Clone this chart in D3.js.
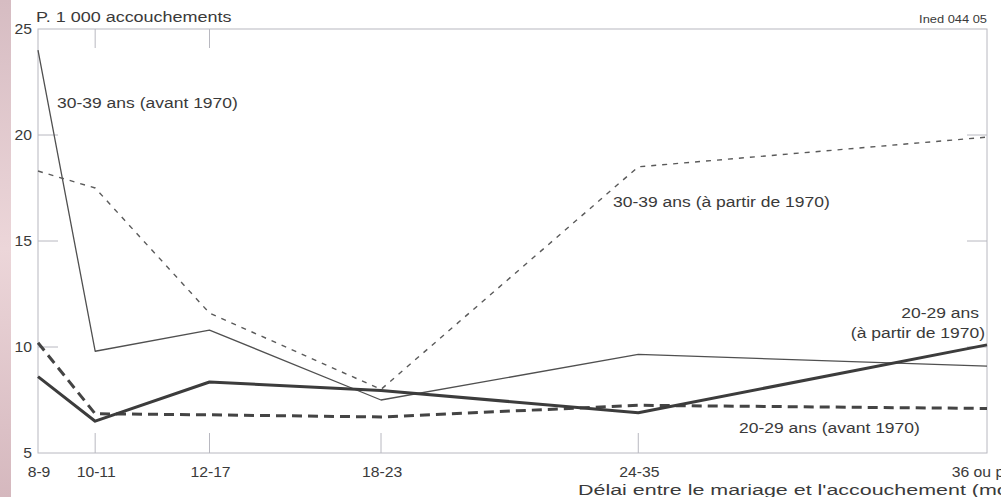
<!DOCTYPE html>
<html>
<head>
<meta charset="utf-8">
<script src="https://cdn.jsdelivr.net/npm/d3@7"></script>
<style>
  html, body { margin: 0; padding: 0; background: #fff; overflow: hidden; }
  svg { display: block; }
  text { font-family: "Liberation Sans", Arial, sans-serif; fill: #3a3a3a; }
</style>
</head>
<body>
<script>
// ---- data ----
const categories = ["8-9", "10-11", "12-17", "18-23", "24-35", "36 ou plus"];
const catMonths = [8.5, 10.5, 14.5, 20.5, 29.5, 41.7];
const yTicks = [5, 10, 15, 20, 25];

const s3039avant = [24.0, 9.8, 10.8, 7.5, 9.65, 9.1];
const s3039apres = [18.3, 17.5, 11.6, 8.0, 18.5, 19.9];
const s2029apres = [8.6, 6.5, 8.35, 7.95, 6.9, 10.1];
const s2029avant = [10.2, 6.85, 6.8, 6.7, 7.25, 7.1];

const W = 1001, H = 497;
const svg = d3.select("body").append("svg").attr("width", W).attr("height", H);

// pink left strip
const defs = svg.append("defs");
const grad = defs.append("linearGradient").attr("id", "strip").attr("x1", 0).attr("y1", 0).attr("x2", 0).attr("y2", 1);
grad.append("stop").attr("offset", "0%").attr("stop-color", "#d6bcc2");
grad.append("stop").attr("offset", "50%").attr("stop-color", "#ecd6d9");
grad.append("stop").attr("offset", "100%").attr("stop-color", "#d5b8be");
svg.append("rect").attr("x", 0).attr("y", 0).attr("width", 11).attr("height", H).attr("fill", "url(#strip)");

const x = d3.scaleLinear().domain([8.5, 41.7]).range([38, 987]);
const y = d3.scaleLinear().domain([5, 25]).range([453, 29]);

const frame = "#b8b8c0";
// frame
svg.append("rect").attr("x", x.range()[0]).attr("y", y(25))
  .attr("width", x.range()[1] - x.range()[0]).attr("height", y(5) - y(25))
  .attr("fill", "none").attr("stroke", frame).attr("stroke-width", 1);

// x ticks (inner, bottom and top)
const innerCats = catMonths.slice(1, 5);
svg.selectAll(".xtb").data(innerCats).join("line")
  .attr("x1", d => x(d)).attr("x2", d => x(d))
  .attr("y1", y(5)).attr("y2", y(5) - 20)
  .attr("stroke", frame).attr("stroke-width", 1);
svg.selectAll(".xtt").data(catMonths.slice(1, 3)).join("line")
  .attr("x1", d => x(d)).attr("x2", d => x(d))
  .attr("y1", y(25)).attr("y2", y(25) + 19)
  .attr("stroke", frame).attr("stroke-width", 1);
// y ticks (left and right)
svg.selectAll(".ytl").data(yTicks.slice(1, 4)).join("line")
  .attr("x1", x.range()[0]).attr("x2", x.range()[0] + 20)
  .attr("y1", d => y(d)).attr("y2", d => y(d))
  .attr("stroke", frame).attr("stroke-width", 1);
svg.selectAll(".ytr").data(yTicks.slice(1, 4)).join("line")
  .attr("x1", x.range()[1]).attr("x2", x.range()[1] - 20)
  .attr("y1", d => y(d)).attr("y2", d => y(d))
  .attr("stroke", frame).attr("stroke-width", 1);

function stext(px, py, str, opts = {}) {
  const g = svg.append("g").attr("transform", `translate(${px},${py}) scale(${opts.sx || 1.18},1)`);
  g.append("text").attr("x", 0).attr("y", 0)
    .attr("text-anchor", opts.anchor || "start")
    .style("font-size", (opts.size || 15) + "px")
    .text(str);
  return g;
}

// y tick labels
yTicks.forEach(v => stext(32, y(v) + 5, String(v), { anchor: "end", sx: 1.05 }));
// x tick labels
categories.forEach((c, i) => stext(x(catMonths[i]) + 1, 477, c, { anchor: "middle", sx: 1.05 }));

// titles
stext(36, 22, "P. 1 000 accouchements", { sx: 1.2, size: 15 });
stext(987, 23, "Ined 044 05", { anchor: "end", sx: 1.12, size: 11.5 });
stext(578, 495, "Délai entre le mariage et l'accouchement (mois)", { sx: 1.43, size: 15 });

// lines
const line = d3.line().x((d, i) => x(catMonths[i])).y(d => y(d));
const series = [
  { data: s3039avant, w: 1.3, dash: null, color: "#505050" },
  { data: s3039apres, w: 1.4, dash: "5,6", color: "#5a5a5a" },
  { data: s2029avant, w: 3, dash: "10,6", color: "#444" },
  { data: s2029apres, w: 3, dash: null, color: "#3c3c3c" }
];
series.forEach(s => {
  svg.append("path").datum(s.data).attr("d", line)
    .attr("fill", "none").attr("stroke", s.color).attr("stroke-width", s.w)
    .attr("stroke-dasharray", s.dash).attr("stroke-linejoin", "round");
});

// series labels
stext(57, 108, "30-39 ans (avant 1970)", { sx: 1.13, size: 15.5 });
stext(613, 207, "30-39 ans (à partir de 1970)", { sx: 1.13, size: 15.5 });
stext(979, 318, "20-29 ans", { anchor: "end", sx: 1.13, size: 15.5 });
stext(985, 338, "(à partir de 1970)", { anchor: "end", sx: 1.13, size: 15.5 });
stext(739, 433, "20-29 ans (avant 1970)", { sx: 1.13, size: 15.5 });
</script>
</body>
</html>
